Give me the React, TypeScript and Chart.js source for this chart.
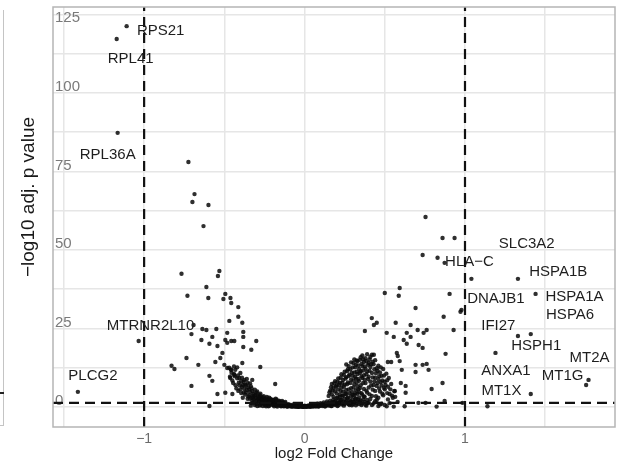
import React, { useEffect, useRef } from 'react';
import { Chart, registerables } from 'chart.js';

Chart.register(...registerables);

// axis ranges
const xMin = -1.568;
const xMax = 1.935;
const yMin = -6.4;
const yMax = 127.4;

// thresholds
const fcThreshold = 1;
const pThreshold = 0.05;

// labelled genes: point values
const labeledPoints: [number, number][] = [
  [-1.109, 121.3], [-1.171, 117.2], [-1.165, 87.3], [-1.034, 21.0], [-1.413, 4.8],
  [1.04, 40.8], [1.33, 40.8], [1.44, 36.0], [0.978, 30.9], [1.33, 22.6], [1.41, 23.2],
  [1.19, 17.2], [1.755, 7.0], [1.77, 8.6], [1.41, 4.1], [1.14, 0.2],
];

// down-regulated scattered genes
const leftSparse: [number, number][] = [
  [-0.724, 78.0], [-0.686, 67.8], [-0.699, 65.3], [-0.599, 64.3], [-0.63, 57.6], [-0.767, 42.4],
  [-0.531, 43.3], [-0.54, 41.7], [-0.612, 38.2], [-0.73, 35.4], [-0.6, 34.7], [-0.494, 36.0],
  [-0.506, 34.4], [-0.462, 34.7], [-0.457, 33.1], [-0.413, 31.8], [-0.413, 28.7], [-0.469, 27.4],
  [-0.388, 26.8], [-0.692, 26.1], [-0.637, 24.8], [-0.612, 24.5], [-0.55, 24.8], [-0.482, 23.6],
  [-0.382, 23.9], [-0.382, 22.3], [-0.705, 23.2], [-0.575, 22.3], [-0.643, 21.3], [-0.494, 21.3],
  [-0.457, 21.0], [-0.438, 21.0], [-0.301, 21.0], [-0.593, 20.1], [-0.543, 19.4], [-0.482, 20.4],
  [-0.382, 19.1], [-0.332, 18.2], [-0.512, 17.2], [-0.525, 15.6], [-0.556, 14.3], [-0.736, 15.6],
  [-0.829, 13.1], [-0.811, 12.1], [-0.662, 13.4], [-0.5, 13.4], [-0.482, 12.4], [-0.457, 11.8],
  [-0.432, 11.8], [-0.388, 14.0], [-0.276, 12.7], [-0.593, 9.9], [-0.575, 8.3], [-0.463, 9.2],
  [-0.438, 10.2], [-0.407, 9.2], [-0.326, 8.6], [-0.705, 6.7], [-0.413, 5.1], [-0.183, 7.3],
  [-0.543, 4.1], [-0.494, 4.5], [-0.45, 4.1], [-0.593, 0.3],
];

// up-regulated scattered genes
const rightSparse: [number, number][] = [
  [0.754, 60.5], [0.86, 53.8], [0.935, 53.8], [0.736, 48.4], [0.829, 47.5], [0.873, 45.9],
  [0.5, 36.3], [0.593, 37.9], [0.587, 35.4], [0.904, 36.0], [0.692, 31.5], [0.867, 28.7],
  [0.972, 30.3], [0.419, 28.3], [0.432, 26.1], [0.45, 26.8], [0.568, 26.8], [0.661, 26.1],
  [0.376, 24.2], [0.512, 23.6], [0.556, 22.3], [0.637, 23.6], [0.661, 22.3], [0.705, 24.5],
  [0.742, 23.6], [0.761, 24.5], [0.929, 24.5], [0.618, 21.3], [0.637, 20.1], [0.575, 17.2],
  [0.581, 16.2], [0.593, 14.6], [0.711, 19.7], [0.736, 18.8], [0.879, 16.9], [0.432, 16.6],
  [0.519, 14.3], [0.54, 14.3], [0.606, 11.8], [0.692, 13.4], [0.692, 11.1], [0.736, 13.4],
  [0.761, 13.7], [0.773, 11.8], [0.6, 7.6], [0.63, 6.7], [0.63, 4.5], [0.562, 5.1],
  [0.792, 5.7], [0.86, 7.6], [0.873, 1.9], [0.823, 0.1], [0.754, 1.3], [0.71, 1.3],
  [0.624, 0.2], [0.556, 0.1], [0.512, 0.2], [0.984, 1.3],
];

// dense core near zero
const coreBand: [number, number][] = [
  [-0.34, 2.6], [-0.33, 1.2], [-0.32, 3.1], [-0.31, 0.6], [-0.3, 2.0], [-0.3, 0.9], [-0.29, 3.4],
  [-0.29, 1.5], [-0.28, 0.4], [-0.28, 2.6], [-0.27, 1.1], [-0.27, 3.0], [-0.26, 0.3], [-0.26, 1.9],
  [-0.25, 2.4], [-0.25, 0.8], [-0.24, 1.4], [-0.24, 0.2], [-0.23, 2.1], [-0.23, 0.9], [-0.22, 1.6],
  [-0.22, 0.4], [-0.21, 1.2], [-0.21, 2.3], [-0.2, 0.7], [-0.2, 1.5], [-0.19, 0.2], [-0.19, 1.0],
  [-0.18, 1.8], [-0.18, 0.5], [-0.17, 1.2], [-0.17, 0.1], [-0.16, 0.8], [-0.16, 1.5], [-0.15, 0.3],
  [-0.15, 1.0], [-0.14, 0.6], [-0.14, 1.3], [-0.13, 0.2], [-0.13, 0.9], [-0.12, 0.5], [-0.12, 1.1],
  [-0.11, 0.1], [-0.11, 0.7], [-0.1, 0.4], [-0.1, 0.9], [-0.09, 0.2], [-0.09, 0.6], [-0.08, 0.1],
  [-0.08, 0.5], [-0.07, 0.3], [-0.07, 0.8], [-0.06, 0.1], [-0.06, 0.4], [-0.05, 0.2], [-0.05, 0.6],
  [-0.04, 0.05], [-0.04, 0.3], [-0.03, 0.2], [-0.03, 0.5], [-0.02, 0.1], [-0.02, 0.3], [-0.01, 0.05],
  [-0.01, 0.2], [0.0, 0.1], [0.0, 0.35], [0.01, 0.05], [0.01, 0.25], [0.02, 0.15], [0.02, 0.4],
  [0.03, 0.1], [0.03, 0.5], [0.04, 0.2], [0.04, 0.6], [0.05, 0.1], [0.05, 0.45], [0.06, 0.3],
  [0.06, 0.8], [0.07, 0.15], [0.07, 0.6], [0.08, 0.4], [0.08, 1.0], [0.09, 0.2], [0.09, 0.7],
  [0.1, 0.5], [0.1, 1.2], [0.11, 0.3], [0.11, 0.9], [0.12, 0.6], [0.12, 1.4], [0.13, 0.2],
  [0.13, 1.0], [0.14, 0.7], [0.14, 1.7], [0.15, 0.4], [0.15, 1.2], [0.16, 0.9], [0.16, 2.0],
  [0.17, 0.3], [0.17, 1.5], [0.18, 1.0], [0.18, 2.4], [0.19, 0.6], [0.19, 1.8], [0.2, 1.2],
  [0.2, 2.8], [0.21, 0.5], [0.21, 2.0], [0.22, 1.4], [0.22, 3.2], [0.23, 0.8], [0.23, 2.3],
  [0.24, 1.6], [0.24, 3.6], [0.25, 0.9], [0.25, 2.6], [0.26, 1.8], [0.26, 4.1], [0.27, 1.1],
  [0.27, 3.0], [0.28, 2.1], [0.28, 0.6], [0.29, 3.4], [0.29, 1.3], [0.3, 2.4], [0.3, 0.8],
  [0.31, 3.8], [0.31, 1.5], [0.32, 2.7], [0.32, 0.5], [0.33, 4.2], [0.33, 1.7], [0.34, 3.0],
  [0.34, 0.9], [0.35, 2.0], [0.36, 1.1], [0.37, 3.3], [0.38, 0.7], [0.39, 2.2], [0.4, 1.4],
  [0.42, 0.6], [0.44, 1.8], [0.46, 0.3], [0.48, 1.0],
  [-0.335, 0.4], [-0.325, 2.0], [-0.315, 1.4], [-0.305, 2.8], [-0.295, 0.3], [-0.285, 1.9],
  [-0.275, 0.7], [-0.265, 2.5], [-0.255, 1.3], [-0.245, 0.5], [-0.235, 1.8], [-0.225, 0.2],
  [-0.215, 0.9], [-0.205, 1.9], [-0.195, 0.6], [-0.185, 1.3], [-0.175, 0.4], [-0.165, 1.1],
  [-0.155, 0.6], [-0.145, 0.2], [-0.135, 0.6], [-0.125, 0.3], [-0.115, 0.5], [-0.105, 0.15],
  [-0.095, 0.4], [-0.085, 0.3], [-0.075, 0.1], [-0.065, 0.25], [-0.055, 0.1], [-0.045, 0.15],
  [-0.035, 0.05], [-0.025, 0.2], [-0.015, 0.1], [-0.005, 0.05], [0.005, 0.2], [0.015, 0.1],
  [0.025, 0.3], [0.035, 0.05], [0.045, 0.35], [0.055, 0.2], [0.065, 0.5], [0.075, 0.35],
  [0.085, 0.15], [0.095, 0.45], [0.105, 0.8], [0.115, 0.5], [0.125, 0.2], [0.135, 0.6],
  [0.145, 1.1], [0.155, 0.7], [0.165, 0.3], [0.175, 1.0], [0.185, 1.6], [0.195, 0.9],
  [0.205, 0.3], [0.215, 1.3], [0.225, 2.2], [0.235, 1.1], [0.245, 0.4], [0.255, 1.5],
  [0.265, 2.8], [0.275, 0.9], [0.285, 1.7], [0.295, 0.5], [0.305, 1.6], [0.315, 2.6],
  [0.325, 1.1], [0.335, 2.3], [0.345, 1.5], [0.355, 0.6], [0.365, 2.4], [0.375, 1.6],
  [0.385, 0.4], [0.395, 1.2], [0.41, 2.5], [0.43, 1.1], [0.45, 2.2], [0.47, 0.8], [0.5, 0.6],
  [0.53, 1.2],
];

// up-regulated cluster
const rightBlob: [number, number][] = [
  [0.15, 3.5], [0.16, 5.2], [0.17, 4.0], [0.17, 7.3], [0.18, 6.1], [0.18, 3.2], [0.19, 5.0],
  [0.19, 8.2], [0.2, 4.3], [0.2, 6.8], [0.21, 9.1], [0.21, 5.6], [0.22, 7.7], [0.22, 3.9],
  [0.23, 10.4], [0.23, 6.3], [0.24, 8.6], [0.24, 4.9], [0.25, 11.2], [0.25, 7.1], [0.26, 13.5],
  [0.26, 9.5], [0.26, 5.4], [0.27, 12.0], [0.27, 7.8], [0.28, 10.3], [0.28, 4.4], [0.29, 14.2],
  [0.29, 8.7], [0.29, 6.0], [0.3, 12.6], [0.3, 9.9], [0.3, 3.8], [0.31, 15.1], [0.31, 11.0],
  [0.31, 7.2], [0.32, 13.4], [0.32, 5.3], [0.32, 9.0], [0.33, 14.6], [0.33, 10.5], [0.33, 6.6],
  [0.34, 12.1], [0.34, 8.3], [0.34, 4.7], [0.35, 15.8], [0.35, 11.4], [0.35, 6.9], [0.36, 16.4],
  [0.36, 13.0], [0.36, 9.2], [0.36, 3.9], [0.37, 14.3], [0.37, 10.1], [0.37, 5.7], [0.38, 15.5],
  [0.38, 12.2], [0.38, 7.6], [0.39, 16.8], [0.39, 11.3], [0.39, 4.6], [0.4, 14.0], [0.4, 9.6],
  [0.4, 6.2], [0.41, 15.9], [0.41, 12.7], [0.41, 8.1], [0.42, 16.6], [0.42, 10.8], [0.42, 3.5],
  [0.43, 13.6], [0.43, 7.0], [0.44, 14.9], [0.44, 9.3], [0.44, 5.1], [0.45, 12.3], [0.45, 6.7],
  [0.46, 13.1], [0.46, 8.8], [0.46, 2.9], [0.47, 11.0], [0.47, 4.9], [0.48, 9.9], [0.48, 6.8],
  [0.49, 12.1], [0.49, 3.7], [0.5, 8.0], [0.5, 5.6], [0.51, 10.6], [0.52, 6.4], [0.52, 2.4],
  [0.53, 4.1], [0.54, 7.3], [0.55, 2.9], [0.56, 5.0], [0.58, 1.6],
  [0.155, 4.6], [0.165, 6.3], [0.175, 5.2], [0.185, 7.5], [0.195, 6.4], [0.205, 8.0], [0.205, 3.0],
  [0.215, 7.0], [0.225, 9.3], [0.225, 5.1], [0.235, 7.6], [0.235, 3.6], [0.245, 10.2], [0.245, 6.4],
  [0.255, 9.0], [0.255, 4.2], [0.265, 11.4], [0.265, 7.2], [0.275, 13.0], [0.275, 9.8], [0.275, 5.6],
  [0.285, 12.0], [0.285, 7.6], [0.295, 10.9], [0.295, 4.8], [0.305, 14.0], [0.305, 8.4], [0.305, 6.2],
  [0.315, 12.6], [0.315, 9.6], [0.315, 4.3], [0.325, 14.8], [0.325, 11.2], [0.325, 7.8], [0.335, 13.2],
  [0.335, 8.9], [0.335, 5.6], [0.345, 15.0], [0.345, 10.8], [0.345, 6.0], [0.355, 13.7], [0.355, 9.7],
  [0.355, 4.4], [0.365, 15.2], [0.365, 11.6], [0.365, 7.6], [0.375, 12.9], [0.375, 8.7], [0.375, 3.2],
  [0.385, 14.6], [0.385, 10.4], [0.385, 5.2], [0.395, 13.4], [0.395, 8.9], [0.405, 15.1], [0.405, 11.5],
  [0.405, 4.0], [0.415, 13.6], [0.415, 6.8], [0.425, 14.4], [0.425, 9.4], [0.425, 5.5], [0.435, 12.0],
  [0.435, 8.1], [0.445, 10.7], [0.445, 3.4], [0.455, 11.5], [0.455, 7.6], [0.465, 9.8], [0.465, 5.9],
  [0.475, 12.6], [0.475, 7.9], [0.485, 8.4], [0.485, 4.2], [0.495, 10.0], [0.495, 6.1], [0.505, 7.0],
  [0.515, 8.5], [0.515, 4.4], [0.525, 9.2], [0.535, 5.6], [0.545, 3.6], [0.565, 3.2],
];

// down-regulated shoulder
const leftShoulder: [number, number][] = [
  [-0.46, 11.9], [-0.45, 8.4], [-0.44, 10.5], [-0.43, 6.9], [-0.42, 12.6], [-0.42, 9.1],
  [-0.41, 7.7], [-0.4, 10.8], [-0.4, 5.6], [-0.39, 9.3], [-0.39, 6.4], [-0.38, 8.0], [-0.38, 4.6],
  [-0.37, 7.1], [-0.37, 3.9], [-0.36, 8.9], [-0.36, 5.4], [-0.35, 6.3], [-0.35, 3.3], [-0.34, 4.8],
  [-0.34, 7.5], [-0.33, 5.9], [-0.33, 2.9], [-0.32, 4.2], [-0.31, 5.5], [-0.31, 3.6], [-0.3, 4.5],
  [-0.29, 2.5], [-0.28, 3.8], [-0.27, 2.2], [-0.26, 3.1], [-0.25, 1.8], [-0.24, 2.7], [-0.23, 1.5],
  [-0.22, 2.9], [-0.2, 2.3], [-0.18, 2.6], [-0.16, 2.0], [-0.14, 1.9], [-0.12, 1.6],
  [-0.465, 9.6], [-0.455, 10.9], [-0.445, 7.6], [-0.435, 9.8], [-0.425, 5.9], [-0.415, 10.0],
  [-0.405, 6.9], [-0.395, 8.2], [-0.395, 4.4], [-0.385, 7.0], [-0.385, 2.9], [-0.375, 5.8],
  [-0.375, 8.6], [-0.365, 4.6], [-0.365, 6.8], [-0.355, 2.6], [-0.355, 7.6], [-0.345, 5.6],
  [-0.345, 3.8], [-0.335, 6.6], [-0.325, 3.6], [-0.325, 5.0], [-0.315, 2.4], [-0.305, 3.9],
  [-0.295, 4.9], [-0.285, 3.0], [-0.275, 4.2], [-0.265, 2.0], [-0.255, 3.4], [-0.245, 2.1],
  [-0.235, 3.2], [-0.215, 2.6], [-0.195, 2.2], [-0.175, 2.4], [-0.155, 1.7], [-0.135, 1.5],
  [-0.44, 12.9], [-0.47, 12.5],
];

// gene labels (text centre in data units)
const geneNames = [
  'RPS21', 'RPL41', 'RPL36A', 'MTRNR2L10', 'PLCG2', 'SLC3A2', 'HLA\u2212C', 'HSPA1B',
  'DNAJB1', 'HSPA1A', 'HSPA6', 'IFI27', 'HSPH1', 'MT2A', 'ANXA1', 'MT1G', 'MT1X',
];
const geneLabelX = [
  -0.897, -1.084, -1.227, -0.96, -1.319, 1.385, 1.028, 1.581, 1.193, 1.683, 1.655, 1.208,
  1.444, 1.776, 1.255, 1.609, 1.227,
];
const geneLabelY = [
  119.9, 110.8, 80.3, 25.8, 9.9, 51.9, 46.2, 43.0, 34.4, 35.0, 29.3, 25.8, 19.4, 15.6, 11.5,
  9.9, 5.1,
];

const xTitle = 'log2 Fold Change';
const yTitle = '\u2212log10 adj. p value';

const FONT = '"Liberation Sans", Arial, Helvetica, sans-serif';

const toPts = (arr: [number, number][]) => arr.map(([x, y]) => ({ x, y }));

export default function App() {
  const ref = useRef<HTMLCanvasElement | null>(null);

  useEffect(() => {
    if (!ref.current) return;
    const pThreshLog = -Math.log10(pThreshold);
    const allPoints = [
      ...toPts(coreBand),
      ...toPts(rightBlob),
      ...toPts(leftShoulder),
      ...toPts(leftSparse),
      ...toPts(rightSparse),
      ...toPts(labeledPoints),
    ];

    const labelPlugin = {
      id: 'geneLabels',
      afterDatasetsDraw(chart: any) {
        const { ctx, scales, chartArea } = chart;
        const xs = scales.x;
        const ys = scales.y;
        ctx.save();
        ctx.font = `15px ${FONT}`;
        ctx.fillStyle = '#1e1e1e';
        ctx.textAlign = 'center';
        ctx.textBaseline = 'middle';
        geneNames.forEach((n, i) => {
          ctx.fillText(n, xs.getPixelForValue(geneLabelX[i]), ys.getPixelForValue(geneLabelY[i]));
        });
        ctx.restore();
        // panel border
        ctx.save();
        ctx.strokeStyle = '#b5b5b5';
        ctx.lineWidth = 1.5;
        ctx.strokeRect(chartArea.left, chartArea.top, chartArea.right - chartArea.left, chartArea.bottom - chartArea.top);
        ctx.restore();
        // y title
        ctx.save();
        ctx.translate(29, 197);
        ctx.rotate(-Math.PI / 2);
        ctx.font = `19px ${FONT}`;
        ctx.fillStyle = '#1a1a1a';
        ctx.textAlign = 'center';
        ctx.textBaseline = 'middle';
        ctx.fillText(yTitle, 0, 0);
        ctx.restore();
      },
    };

    const dash = [10, 6];
    const chart = new Chart(ref.current, {
      type: 'scatter',
      data: {
        datasets: [
          {
            data: [{ x: -fcThreshold, y: yMin }, { x: -fcThreshold, y: yMax }],
            showLine: true,
            borderColor: '#111',
            borderWidth: 2.2,
            borderDash: dash,
            pointRadius: 0,
            order: 0,
          },
          {
            data: [{ x: fcThreshold, y: yMin }, { x: fcThreshold, y: yMax }],
            showLine: true,
            borderColor: '#111',
            borderWidth: 2.2,
            borderDash: dash,
            pointRadius: 0,
            order: 0,
          },
          {
            data: [{ x: xMin, y: pThreshLog }, { x: xMax, y: pThreshLog }],
            showLine: true,
            borderColor: '#111',
            borderWidth: 2.2,
            borderDash: dash,
            pointRadius: 0,
            order: 0,
          },
          {
            data: allPoints,
            pointRadius: 2.2,
            pointBackgroundColor: 'rgba(10,10,10,0.85)',
            pointBorderWidth: 0,
            order: 1,
          },
        ],
      },
      options: {
        animation: false,
        responsive: false,
        devicePixelRatio: 1,
        events: [],
        layout: { padding: { left: 0, top: 7, right: 2, bottom: 0 } },
        plugins: { legend: { display: false }, tooltip: { enabled: false } },
        scales: {
          x: {
            type: 'linear',
            min: xMin,
            max: xMax,
            afterFit: (s: any) => { s.height = 44; s.paddingLeft = 0; s.paddingRight = 0; },
            grid: { color: '#e6e6e6', lineWidth: 1.5, drawTicks: false },
            border: { display: false },
            ticks: {
              stepSize: 0.5,
              includeBounds: false,
              autoSkip: false,
              maxRotation: 0,
              padding: 4,
              color: '#6b6b6b',
              font: { family: FONT, size: 14 },
              callback: (v: any) => (Number.isInteger(v) ? String(v).replace('-', '\u2212') : ''),
            },
            title: {
              display: true,
              text: xTitle,
              color: '#1a1a1a',
              font: { family: FONT, size: 15 },
              padding: { top: 0, bottom: 8 },
            },
          },
          y: {
            type: 'linear',
            min: yMin,
            max: yMax,
            afterFit: (s: any) => { s.width = 53; s.paddingTop = 0; s.paddingBottom = 0; },
            grid: { color: '#e6e6e6', lineWidth: 1.5, drawTicks: false },
            border: { display: false },
            ticks: {
              stepSize: 12.5,
              includeBounds: false,
              autoSkip: false,
              mirror: true,
              padding: 2,
              labelOffset: -6,
              color: '#7a7a7a',
              font: { family: FONT, size: 15 },
              callback: (v: any) => {
                const n = Number(v);
                if (n % 25 !== 0) return '';
                return n === 125 ? ['', String(n)] : String(n);
              },
            },
          },
        },
      },
      plugins: [labelPlugin],
    } as any);
    return () => chart.destroy();
  }, []);

  return (
    <div style={{ position: 'fixed', left: 0, top: 0, width: 619, height: 471, background: '#fff' }}>
      <div
        style={{
          position: 'absolute', left: 0, top: 10, width: 3, height: 415,
          borderRight: '1.5px solid #c4c4c4', borderBottom: '1.5px solid #c4c4c4',
        }}
      />
      <div style={{ position: 'absolute', left: 0, top: 392, width: 4, height: 2, background: '#222' }} />
      <canvas ref={ref} width={619} height={471} style={{ position: 'absolute', left: 0, top: 0, width: 619, height: 471 }} />
    </div>
  );
}
